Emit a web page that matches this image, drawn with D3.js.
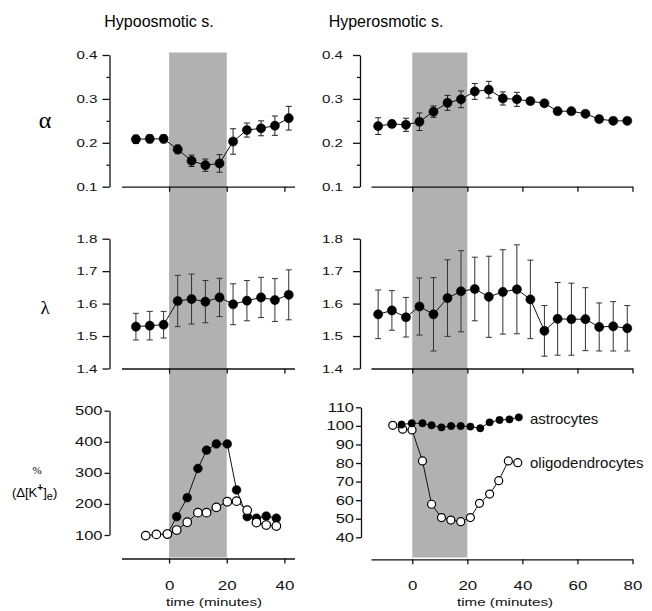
<!DOCTYPE html>
<html><head><meta charset="utf-8">
<script src="https://cdn.jsdelivr.net/npm/d3@7"></script>
<style>body{margin:0;background:#fff}svg{display:block}</style>
</head><body>
<svg id="c" width="652" height="611"></svg>
<script>
// ---------------- data ----------------
const titles = ["Hypoosmotic s.", "Hyperosmotic s."];
const timesHypo = [-11.5, -6.7, -1.9, 3.0, 7.8, 12.6, 17.5, 22.2, 27.0, 31.9, 36.7, 41.5];
const alphaHypo = [0.208, 0.209, 0.209, 0.185, 0.159, 0.149, 0.153, 0.203, 0.229, 0.233, 0.239, 0.256];
const alphaHypoErr = [0.0095, 0.009, 0.009, 0.01, 0.013, 0.014, 0.02, 0.029, 0.016, 0.017, 0.022, 0.027];
const lambdaHypo = [1.529, 1.532, 1.535, 1.608, 1.614, 1.606, 1.619, 1.598, 1.609, 1.619, 1.611, 1.627];
const lambdaHypoErr = [0.041, 0.044, 0.041, 0.079, 0.077, 0.065, 0.059, 0.063, 0.062, 0.062, 0.066, 0.077];

const timesHyper = [-12.4, -7.4, -2.3, 2.6, 7.7, 12.8, 17.7, 22.7, 27.8, 32.9, 38.0, 42.9, 48.0, 52.8, 57.8, 62.9, 67.9, 73.0, 78.1];
const alphaHyper = [0.238, 0.243, 0.241, 0.248, 0.271, 0.291, 0.299, 0.317, 0.321, 0.301, 0.299, 0.295, 0.290, 0.272, 0.272, 0.266, 0.254, 0.250, 0.250];
const alphaHyperErr = [0.019, 0.008, 0.015, 0.02, 0.013, 0.017, 0.019, 0.018, 0.019, 0.015, 0.016, 0.006, 0.005, 0.005, 0.005, 0.005, 0.005, 0.005, 0.005];
const lambdaHyper = [1.567, 1.579, 1.558, 1.591, 1.567, 1.617, 1.638, 1.645, 1.621, 1.636, 1.644, 1.613, 1.516, 1.553, 1.552, 1.552, 1.528, 1.530, 1.524];
const lambdaHyperErr = [0.075, 0.061, 0.061, 0.088, 0.113, 0.118, 0.125, 0.098, 0.125, 0.13, 0.137, 0.121, 0.078, 0.112, 0.111, 0.097, 0.074, 0.076, 0.07];

const kHypoFilledT = [-0.6, 2.65, 6.3, 10.0, 13.0, 16.4, 20.2, 23.4, 27.1, 30.3, 33.7, 37.2];
const kHypoFilled  = [103, 159, 220, 314, 373, 393, 393, 245, 159, 154, 161, 154];
const kHypoOpenT = [-8.1, -4.4, -0.6, 2.65, 6.3, 10.0, 13.0, 16.4, 20.2, 23.4, 27.1, 30.3, 33.7, 37.2];
const kHypoOpen  = [98, 102, 103, 116, 141, 172, 172, 189, 207, 209, 180, 140, 132, 129];

const astroT = [-3.9, -0.2, 3.7, 7.0, 10.6, 14.1, 17.6, 21.1, 24.7, 28.1, 31.7, 35.3, 38.7];
const astroV = [100.7, 101.4, 101.4, 100.3, 99.2, 99.9, 99.9, 99.6, 98.7, 101.9, 103.2, 103.5, 104.6];
const oligoT = [-7.1, -3.5, -0.1, 3.7, 7.0, 10.6, 14.0, 17.6, 21.1, 24.4, 28.1, 31.4, 34.9, 38.3];
const oligoV = [100.3, 98.2, 97.8, 81.1, 57.8, 50.6, 49.3, 48.4, 50.6, 58.3, 63.3, 70.5, 81.1, 80.2];
const legendNames = ["astrocytes", "oligodendrocytes"];

const alphaTicks = [0.1, 0.2, 0.3, 0.4];
const alphaMinor = [0.15, 0.25, 0.35];
const lambdaTicks = [1.4, 1.5, 1.6, 1.7, 1.8];
const kHypoTicks = [100, 200, 300, 400, 500];
const kHyperTicks = [40, 50, 60, 70, 80, 90, 100, 110];
const xTicksHypo = [0, 20, 40];
const xTicksHyper = [0, 20, 40, 60, 80];
const stimulus = [0, 20];
const xLabel = "time (minutes)";

// ---------------- drawing ----------------
const svg = d3.select("#c");
const SX = 1.32; // horizontal stretch of small axis text
const FONT = "'Liberation Sans', Arial, Helvetica, sans-serif";

const xL = d3.scaleLinear().domain([-16.5, 43.5]).range([121.5, 294.5]);
const xR = d3.scaleLinear().domain([-15, 80]).range([371, 632.5]);
const yAxisXL = 109.5, yAxisXR = 360;

const yAlpha = d3.scaleLinear().domain([0.1, 0.4]).range([186.7, 55]);
const yLambda = d3.scaleLinear().domain([1.4, 1.8]).range([368.5, 238.7]);
const yKL = d3.scaleLinear().domain([100, 500]).range([535, 410.7]);
const yKR = d3.scaleLinear().domain([40, 110]).range([537.3, 407.3]);
const xAxisBottomY = 558.5;

function stretch(sel) {
  sel.each(function () {
    const t = d3.select(this);
    const x = +t.attr("x") || 0;
    t.attr("x", x / SX).attr("transform", `scale(${SX},1)`);
  });
}
function styleAxis(g, fs) {
  g.attr("font-family", FONT).attr("font-size", fs);
  g.selectAll("path,line").attr("stroke", "#111").attr("stroke-width", 1.3);
  g.selectAll("text").attr("fill", "#111");
}

// shaded stimulus band
[[xL], [xR]].forEach(([x]) => {
  svg.append("rect")
    .attr("x", x(stimulus[0])).attr("width", x(stimulus[1]) - x(stimulus[0]))
    .attr("y", 52.5).attr("height", 557.5 - 52.5)
    .attr("fill", "#b1b1b1");
});

// titles
svg.append("text").attr("x", 159).attr("y", 27).attr("text-anchor", "middle")
  .attr("font-family", FONT).attr("font-size", 16).text(titles[0]);
svg.append("text").attr("x", 386).attr("y", 27).attr("text-anchor", "middle")
  .attr("font-family", FONT).attr("font-size", 16).text(titles[1]);

function yAxis(ax, scale, ticks, fmt, pad, tickLen, fs) {
  const g = svg.append("g").attr("transform", `translate(${ax},0)`)
    .call(d3.axisLeft(scale).tickValues(ticks).tickFormat(fmt)
      .tickSize(tickLen).tickSizeOuter(0).tickPadding(pad));
  styleAxis(g, fs);
  g.selectAll("text").call(stretch);
  return g;
}
function minorAxis(ax, scale, ticks) {
  const g = svg.append("g").attr("transform", `translate(${ax},0)`)
    .call(d3.axisLeft(scale).tickValues(ticks).tickFormat("").tickSize(3));
  g.select(".domain").remove();
  styleAxis(g, 10);
}
function xAxis(x, yPos, ticks, labels) {
  const g = svg.append("g").attr("transform", `translate(0,${yPos})`)
    .call(d3.axisBottom(x).tickValues(ticks).tickFormat(labels ? d3.format("d") : "")
      .tickSize(5).tickSizeOuter(0).tickPadding(17));
  styleAxis(g, 12.8);
  g.selectAll("text").call(stretch);
  return g;
}

// axes
yAxis(yAxisXL, yAlpha, alphaTicks, d3.format(".1f"), 5, 7, 11.5);
minorAxis(yAxisXL, yAlpha, alphaMinor);
yAxis(yAxisXR, yAlpha, alphaTicks, d3.format(".1f"), 10, 7, 11.5);
minorAxis(yAxisXR, yAlpha, alphaMinor);
yAxis(yAxisXL, yLambda, lambdaTicks, d3.format(".1f"), 5, 7, 11.5);
yAxis(yAxisXR, yLambda, lambdaTicks, d3.format(".1f"), 10, 7, 11.5);
yAxis(yAxisXL, yKL, kHypoTicks, d3.format("d"), 2, 5, 12.5);
yAxis(yAxisXR + 1, yKR, kHyperTicks, d3.format("d"), 2, 5, 12.5);

xAxis(xL, yAlpha(0.1), xTicksHypo, false);
xAxis(xR, yAlpha(0.1), xTicksHyper, false);
xAxis(xL, yLambda(1.4), xTicksHypo, false);
xAxis(xR, yLambda(1.4), xTicksHyper, false);
xAxis(xL, xAxisBottomY, xTicksHypo, true);
xAxis(xR, xAxisBottomY + 0.8, xTicksHyper, true);

// x labels
[[xL, 214], [xR, 505]].forEach(([x, cx]) => {
  svg.append("text").attr("transform", `translate(${cx},606) scale(${SX},1)`)
    .attr("text-anchor", "middle").attr("font-family", FONT).attr("font-size", 11.5)
    .attr("fill", "#111").text(xLabel);
});

// y labels
svg.append("text").attr("x", 45).attr("y", 128).attr("text-anchor", "middle")
  .attr("font-family", "'Liberation Serif','DejaVu Serif',serif").attr("font-size", 24).text("α");
svg.append("text").attr("x", 45).attr("y", 314).attr("text-anchor", "middle")
  .attr("font-family", "'Liberation Serif','DejaVu Serif',serif").attr("font-size", 19).text("λ");
svg.append("text").attr("x", 37).attr("y", 474).attr("text-anchor", "middle")
  .attr("font-family", "'Liberation Serif','DejaVu Serif',serif").attr("font-size", 11).text("%");
const kl = svg.append("text").attr("x", 12).attr("y", 497)
  .attr("font-family", "'Liberation Sans', Arial, sans-serif").attr("font-size", 13);
kl.append("tspan").text("(Δ[K");
kl.append("tspan").attr("dy", -6).attr("font-size", 10).attr("font-weight", "bold").text("+");
kl.append("tspan").attr("dy", 6).text("]");
kl.append("tspan").attr("dy", 3).attr("font-size", 11).text("e");
kl.append("tspan").attr("dy", -3).text(")");

// series drawing helpers
function series(x, y, ts, vs, errs, opts) {
  const pts = ts.map((t, i) => ({ t, v: vs[i], e: errs ? errs[i] : 0 }));
  const line = d3.line().x(d => x(d.t)).y(d => y(d.v));
  svg.append("path").datum(pts).attr("d", line).attr("fill", "none")
    .attr("stroke", "#111").attr("stroke-width", 1);
  if (errs) {
    const eb = svg.append("g").attr("stroke", opts.errColor || "#222").attr("stroke-width", 1);
    pts.forEach(d => {
      const xp = x(d.t), y1 = y(d.v + d.e), y2 = y(d.v - d.e);
      eb.append("line").attr("x1", xp).attr("x2", xp).attr("y1", y1).attr("y2", y2);
      eb.append("line").attr("x1", xp - 3).attr("x2", xp + 3).attr("y1", y1).attr("y2", y1);
      eb.append("line").attr("x1", xp - 3).attr("x2", xp + 3).attr("y1", y2).attr("y2", y2);
    });
  }
  svg.append("g").selectAll("circle").data(pts).join("circle")
    .attr("cx", d => x(d.t)).attr("cy", d => y(d.v)).attr("r", opts.r)
    .attr("fill", opts.open ? "#fff" : "#000")
    .attr("stroke", "#000").attr("stroke-width", opts.open ? 1.2 : 0.5);
}

series(xL, yAlpha, timesHypo, alphaHypo, alphaHypoErr, { r: 4.6 });
series(xR, yAlpha, timesHyper, alphaHyper, alphaHyperErr, { r: 4.6 });
series(xL, yLambda, timesHypo, lambdaHypo, lambdaHypoErr, { r: 4.6, errColor: "#333" });
series(xR, yLambda, timesHyper, lambdaHyper, lambdaHyperErr, { r: 4.6, errColor: "#333" });

series(xL, yKL, kHypoFilledT, kHypoFilled, null, { r: 4.4 });
series(xL, yKL, kHypoOpenT, kHypoOpen, null, { r: 4.3, open: true });
series(xR, yKR, oligoT, oligoV, null, { r: 4.0, open: true });
series(xR, yKR, astroT, astroV, null, { r: 3.7 });

// legend labels
svg.append("text").attr("x", 530).attr("y", 424).attr("font-family", FONT)
  .attr("font-size", 15).attr("fill", "#111").text(legendNames[0]);
svg.append("text").attr("x", 530).attr("y", 468).attr("font-family", FONT)
  .attr("font-size", 15).attr("fill", "#111").text(legendNames[1]);
</script>
</body></html>
